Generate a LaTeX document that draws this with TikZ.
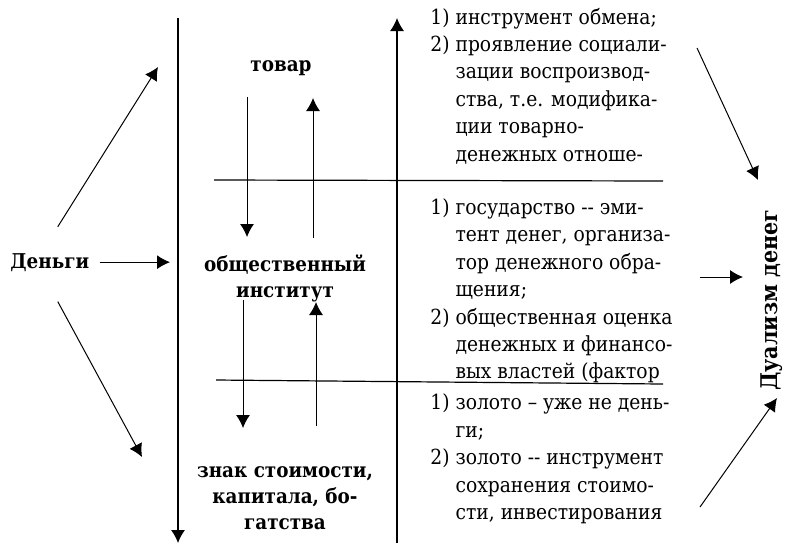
\documentclass[tikz,border=0pt]{standalone}
\usepackage{fontspec}
\IfFontExistsTF{DejaVu Serif Condensed}{%
  \setmainfont{DejaVu Serif Condensed}\def\remsize{10.4}\def\termsize{10.2}\def\dualsize{11.5}}{%
  \setmainfont{DejaVu Serif}\def\remsize{9.5}\def\termsize{9}\def\dualsize{10.5}}
\usetikzlibrary{arrows.meta}
\newcommand{\ind}{\hphantom{2)~}}

\begin{document}
\begin{tikzpicture}[
                x=0.5pt,y=-0.5pt,
                connection/.style={-{Latex[length=6.5pt,width=7pt]},line width=0.5pt},
                axisline/.style={line width=0.6pt},
                term/.style={font=\fontsize{\termsize}{13}\selectfont\bfseries,align=center,inner sep=0pt},
                remark/.style={font=\fontsize{\remsize}{13.7}\selectfont,align=left,inner sep=0pt,anchor=west},
            ]
            \useasboundingbox (0,0) rectangle (795,547);

            % terms
            \node[term,anchor=base west] (money) at (10,268) {Деньги};
            \node[term,anchor=base] (goods) at (281,71) {товар};
            \node[term] (inst) at (285,278) {общественный\\институт};
            \node[term] (sign) at (285,498) {знак стоимости,\\капитала, бо-\\гатства};
            \node[term,rotate=90,font=\fontsize{\dualsize}{13}\selectfont\bfseries] (dual) at (772,300) {Дуализм денег};

            % remarks
            \node[remark] (txtA) at (430,86) {1) инструмент обмена;\\2) проявление социали-\\\ind зации воспроизвод-\\\ind ства, т.е. модифика-\\\ind ции товарно-\\\ind денежных отноше-};
            \node[remark] (txtB) at (430,291) {1) государство -{}- эми-\\\ind тент денег, организа-\\\ind тор денежного обра-\\\ind щения;\\2) общественная оценка\\\ind денежных и финансо-\\\ind вых властей (фактор};
            \node[remark] (txtC) at (430,459) {1) золото – уже не день-\\\ind ги;\\2) золото -{}- инструмент\\\ind сохранения стоимо-\\\ind сти, инвестирования};

            % axes and separators
            \coordinate (top1) at (178,18);
            \coordinate (bot1) at (178,543);
            \coordinate (bot2) at (397,543);
            \coordinate (top2) at (397,18);
            \draw[connection,axisline] (top1) -- (bot1);
            \draw[connection,axisline] (bot2) -- (top2);

            \coordinate (h1a) at (214,180);
            \coordinate (h1b) at (663,181);
            \coordinate (h2a) at (216,380);
            \coordinate (h2b) at (663,384);
            \draw[axisline] (h1a) -- (h1b);
            \draw[axisline] (h2a) -- (h2b);

            % from money
            \coordinate (mUp) at (158,67);
            \coordinate (mMid) at (170,258);
            \coordinate (mDown) at (142,457);
            \draw[connection] ([xshift=4pt,yshift=13pt]money.north) -- (mUp);
            \draw[connection] ([xshift=5pt]money.east) -- (money.east -| mMid);
            \draw[connection] ([xshift=4pt,yshift=-15pt]money.south) -- (mDown);

            % between levels
            \coordinate (s1) at (247,97);  \coordinate (e1) at (247,237);
            \coordinate (s2) at (313,238); \coordinate (e2) at (313,98);
            \coordinate (s3) at (243,300); \coordinate (e3) at (243,428);
            \coordinate (s4) at (316,426); \coordinate (e4) at (316,302);
            \foreach \i in {1,...,4} {
                \draw[connection] (s\i) -- (e\i);
            }

            % to dual
            \coordinate (a1) at (697,48);  \coordinate (b1) at (758,180);
            \coordinate (a2) at (700,277); \coordinate (b2) at (743,277);
            \coordinate (a3) at (700,507); \coordinate (b3) at (777,398);
            \foreach \i in {1,2,3} {
                \draw[connection] (a\i) -- (b\i);
            }
        \end{tikzpicture}
\end{document}
